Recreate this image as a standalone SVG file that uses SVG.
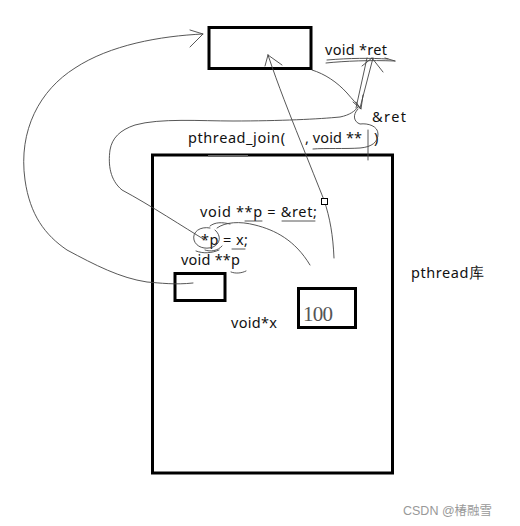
<svg xmlns="http://www.w3.org/2000/svg" width="520" height="526" viewBox="0 0 520 526">
<style>
.box{fill:none;stroke:#000;stroke-width:3}
.ln{fill:none;stroke:#444;stroke-width:0.9;stroke-linecap:round;stroke-linejoin:round}
.t{font-family:"Noto Sans","Open Sans",sans-serif;font-size:14.5px;fill:#111}
.s{font-family:"Liberation Serif",serif;font-size:21px;fill:#555}
.w{font-family:"Liberation Sans","Noto Sans CJK SC",sans-serif;font-size:12.5px;fill:#999}
</style>
<rect width="520" height="526" fill="#fff"/>
<g id="top-box"><rect class="box" x="209" y="27.5" width="102" height="41"/></g>
<g id="pthread-lib"><rect class="box" x="152.5" y="155" width="240" height="318"/>
<text class="t" x="411" y="278" textLength="73">pthread库</text></g>
<g id="p-box"><rect class="box" x="175" y="273.5" width="50" height="27"/></g>
<g id="x-box"><rect class="box" x="298.5" y="288.5" width="57" height="39"/>
<text class="s" x="303" y="321" textLength="30">100</text></g>
<g id="texts">
<text class="t" x="325" y="55" textLength="62">void *ret</text>
<text class="t" x="372" y="122" textLength="34">&amp;ret</text>
<text class="t" x="188" y="143" textLength="97">pthread_join(</text>
<text class="t" x="305" y="143" textLength="57">, void **</text>
<text class="t" x="374" y="143">)</text>
<text class="t" x="200" y="217" textLength="117">void **p = &amp;ret;</text>
<text class="t" x="201" y="245" textLength="47">*p = x;</text>
<text class="t" x="181" y="265" textLength="59">void **p</text>
<text class="t" x="231" y="328" textLength="46">void*x</text>
<text class="w" x="403" y="515">CSDN @椿融雪</text>
</g>
<g id="connectors">
<!-- big left curve from p-box to top box -->
<path class="ln" d="M193,283 C175,285 160,283 147,282 C120,278 95,265 67,250 C45,235 30,215 25,180 C18,130 40,90 75,68 C110,45 160,36 203,34"/>
<path class="ln" d="M190,30 L203,34 L190,47"/>
<!-- curve from *p to &ret -->
<path class="ln" d="M205,240 C185,228 150,205 122,190 C110,180 108,165 110,150 C112,138 120,130 135,125 C160,118 200,121 233,121 C280,121 320,119 340,117 C350,115 355,111 358,107"/>
<!-- narrow arrow up to void *ret -->
<path class="ln" d="M356,108 L367,58 M373,58 L360,108 M360,108 L356,102"/>
<path class="ln" d="M372,58 L383,72 M372,58 L362,66"/>
<path class="ln" d="M326,63 C345,61 370,60 395,61 M327,60 C350,58 370,58 388,59 M395,61 L385,58"/>
<!-- curve from top box corner to &ret -->
<path class="ln" d="M312,70 C325,74 337,82 347,93 C352,99 357,104 361,109"/>
<path class="ln" d="M363,95 L361,109 L353,102"/>
<!-- long arrow from lower middle up into top box -->
<path class="ln" d="M334,258 C333,235 330,218 324,200 C318,185 310,165 300,140 C290,115 278,85 268,55"/>
<path class="ln" d="M268,55 L282,65 M268,55 L265,66"/>
<!-- curve from *p area to right -->
<path class="ln" d="M217,228 C225,222 240,221 255,225 C275,230 295,240 310,265"/>
<!-- scribble loop around *p -->
<path class="ln" d="M210,228 C200,226 192,232 194,240 C196,247 205,250 213,247 C220,244 222,236 215,230 M205,250 C210,252 218,251 222,246 M196,251 C204,254 212,253 219,250 M210,226 C215,222 222,222 230,224"/>
<!-- &ret loop and underline -->
<path class="ln" d="M358,109 C352,115 354,122 360,124 C368,123 378,126 378,134 C378,142 372,147 360,148 C345,149 325,148 313,149"/>
<path class="ln" d="M368,130 L368,160"/>
<!-- underlines -->
<path class="ln" d="M245,221 L262,221 M282,221 L315,221 M232,249 L245,249 M231,272 C236,274 242,273 246,271"/>
<path d="M208,156 L248,156" stroke="#666" stroke-width="2"/>
<rect x="321.5" y="198.5" width="6" height="6" fill="#fff" stroke="#000" stroke-width="1"/>
</g>
</svg>
